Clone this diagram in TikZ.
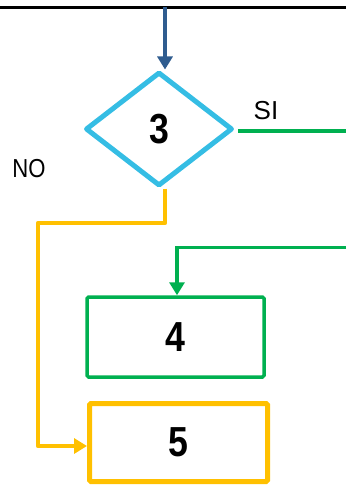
\documentclass[tikz,border=0pt]{standalone}
\usepackage{fontspec}
\setmainfont{Liberation Sans}
\usetikzlibrary{shapes.geometric,arrows.meta}
\definecolor{decision}{HTML}{35BDE4}
\definecolor{flowblue}{HTML}{2F5C8F}
\definecolor{yesgreen}{HTML}{00B050}
\definecolor{noamber}{HTML}{FFC000}
\tikzset{
  numtext/.style={font=\bfseries\fontsize{42}{42}\selectfont, xscale=0.85},
  answer/.style={font=\fontsize{26}{26}\selectfont, inner sep=0pt},
  decisionbox/.style={draw=decision, line width=5pt, diamond, line join=round,
    minimum width=147pt, minimum height=114pt, inner sep=0pt},
  stepbox/.style={draw, rectangle, rounded corners=1.5pt, inner sep=0pt},
  tip/.style={-{Triangle[length=13pt,width=15pt]}},
  yesline/.style={draw=yesgreen, line width=3.5pt},
  noline/.style={draw=noamber, line width=4.5pt, line join=round},
}
\begin{document}
\begin{tikzpicture}[x=1pt,y=-1pt]
\useasboundingbox (0,0) rectangle (346,487);
% top rule and incoming flow
\draw[line width=3pt] (0,7.5) -- (346,7.5);
\coordinate (top) at (165,7.5);
% decision and steps
\node[decisionbox] (d) at (159,129) {};
\node[numtext] at (d.center) {3};
\node[stepbox, draw=yesgreen, line width=3.5pt, minimum width=177pt, minimum height=80pt] (b4) at (175.5,337) {};
\node[numtext] at (b4.center) {4};
\node[stepbox, draw=noamber, line width=5pt, minimum width=178pt, minimum height=78pt] (b5) at (178.5,442.5) {};
\node[numtext] at (b5.center) {5};
% answers
\node[answer, xscale=0.85] (no) at (29,169) {NO};
\node[answer] (si) at (266,111) {SI};
% connectors
\draw[flowblue, line width=3.5pt, tip] (top) -- (top |- d.north);
\coordinate (siend) at (346,131);
\draw[yesline] ([xshift=3pt,yshift=-2pt]d.east) -- (siend);
\coordinate (yesin) at (346,247.5);
\draw[yesline, tip] (yesin) -| ([xshift=1.5pt]b4.north);
\coordinate (bend) at (38,223);
\draw[noline, tip] (top |- d.south) |- (bend) |- ([yshift=-3.5pt]b5.west);
\end{tikzpicture}
\end{document}
